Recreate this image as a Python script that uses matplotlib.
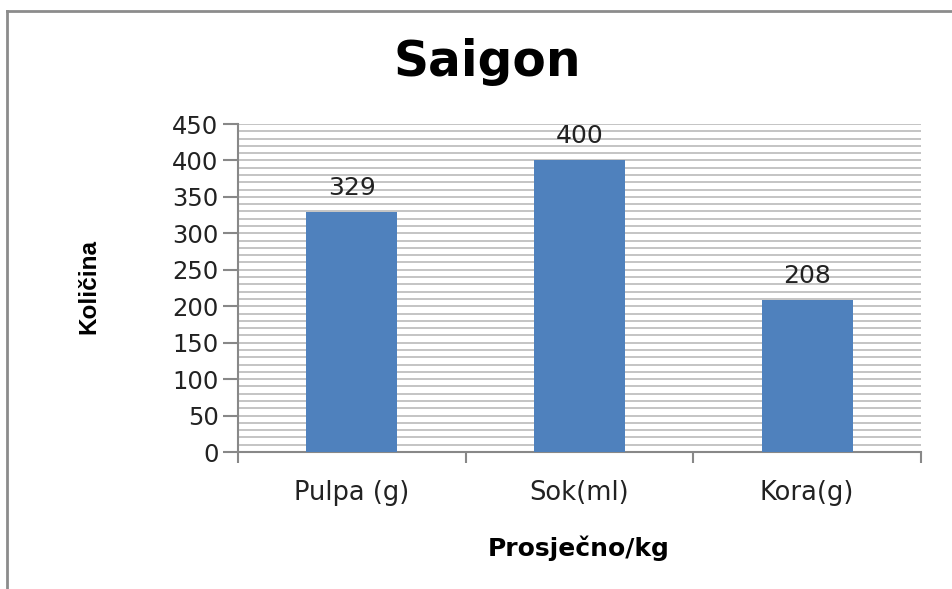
import matplotlib.pyplot as plt
from matplotlib.lines import Line2D
import numpy as np

kategorije = ['Pulpa (g)', 'Sok(ml)', 'Kora(g)']
vrijednosti = [329, 400, 208]

fig = plt.figure(figsize=(9.53, 5.89), dpi=100)
W, H = 953, 589

# plot area in pixels: x 238..921, y 124..452
ax = fig.add_axes([238 / W, 1 - 452 / H, (921 - 238) / W, (452 - 124) / H])

x = np.arange(len(kategorije))
ax.bar(x, vrijednosti, width=0.4, color='#4F81BD', zorder=3)
for xi, v in zip(x, vrijednosti):
    ax.text(xi, v + 17, str(v), ha='center', va='bottom', fontsize=18, color='#222222')

ax.set_xlim(-0.5, len(kategorije) - 0.5)
ax.set_ylim(0, 450)
ax.set_yticks(np.arange(0, 451, 50))
ax.set_yticks(np.arange(0, 451, 10), minor=True)
ax.yaxis.grid(True, which='both', color='#c4c4c4', linewidth=1.4, zorder=0)
ax.set_axisbelow(True)

ax.set_xticks([-0.5, 0.5, 1.5, 2.5])
ax.set_xticklabels([])
ax.set_xticks(x, minor=True)
ax.set_xticklabels(kategorije, minor=True)
ax.tick_params(axis='x', which='major', length=8, width=1.5, color='#888888', direction='out')
ax.tick_params(axis='x', which='minor', length=0, labelsize=18.5, pad=20, labelcolor='#222222')
ax.tick_params(axis='y', which='major', length=11, width=1.5, color='#888888', labelsize=17.5,
               pad=3, labelcolor='#222222')
ax.tick_params(axis='y', which='minor', length=0)

for s in ['top', 'right']:
    ax.spines[s].set_visible(False)
for s in ['left', 'bottom']:
    ax.spines[s].set_color('#888888')
    ax.spines[s].set_linewidth(1.5)

fig.text(487 / W, 1 - 62 / H, 'Saigon', ha='center', va='center', fontsize=35,
         fontweight='bold', family='DejaVu Sans')
fig.text(579 / W, 1 - 548 / H, 'Prosječno/kg', ha='center', va='center', fontsize=18,
         fontweight='bold', family='DejaVu Sans')
fig.text(89 / W, 1 - 287 / H, 'Količina', ha='center', va='center', fontsize=17.5,
         rotation=90, fontweight='bold', family=['Liberation Sans', 'DejaVu Sans'])

# outer chart border
fig.add_artist(Line2D([7 / W, 1.0], [1 - 11 / H, 1 - 11 / H], color='#8c8c8c', linewidth=2))
fig.add_artist(Line2D([7 / W, 7 / W], [0.0, 1 - 11 / H], color='#8c8c8c', linewidth=2))

fig.savefig('out.png', dpi=100)
